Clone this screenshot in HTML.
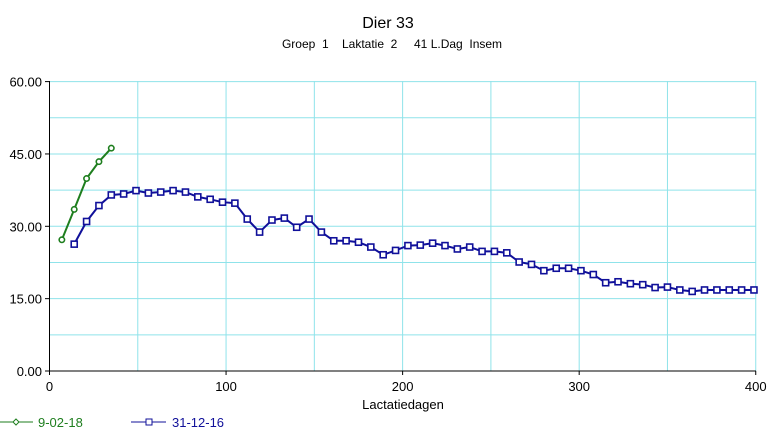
<!DOCTYPE html>
<html><head><meta charset="utf-8"><style>
body{margin:0;background:#fff;}
svg text{font-family:"Liberation Sans",Arial,sans-serif;white-space:pre;}
</style></head><body>
<svg width="776" height="432" xmlns="http://www.w3.org/2000/svg" id="c"></svg>
<script>
const s=document.getElementById('c');
const X=d=>49.5+d*1.7656, Y=v=>371-v*4.8233;
let h='<rect width="776" height="432" fill="#fff"/>';
h+='<text x="388" y="28" font-size="16" text-anchor="middle">Dier 33</text>';
h+='<text x="392" y="48" font-size="12" text-anchor="middle" xml:space="preserve">Groep  1    Laktatie  2     41 L.Dag  Insem</text>';
for(let d=50;d<=400;d+=50)h+=`<line x1="${X(d)}" y1="81" x2="${X(d)}" y2="371" stroke="#8fe3ea"/>`;
for(let v=7.5;v<=60;v+=7.5)h+=`<line x1="49.5" y1="${Y(v)}" x2="756" y2="${Y(v)}" stroke="#8fe3ea"/>`;
h+='<line x1="49.5" y1="81" x2="49.5" y2="371" stroke="#000"/><line x1="49.5" y1="371" x2="756" y2="371" stroke="#000"/>';
for(let v=0;v<=60;v+=15){h+=`<line x1="45" y1="${Y(v)}" x2="49.5" y2="${Y(v)}" stroke="#000"/><text x="42" y="${Y(v)+5}" font-size="13" text-anchor="end">${v.toFixed(2)}</text>`;}
for(let d=0;d<=400;d+=100){h+=`<line x1="${X(d)}" y1="371" x2="${X(d)}" y2="375" stroke="#000"/><text x="${X(d)}" y="391" font-size="13" text-anchor="middle">${d}</text>`;}
h+='<text x="403" y="409" font-size="13" text-anchor="middle">Lactatiedagen</text>';
const b=[26.3,31,34.3,36.5,36.7,37.4,36.9,37.1,37.4,37.1,36.1,35.6,35,34.8,31.5,28.8,31.3,31.7,29.8,31.5,28.8,27,27,26.7,25.7,24.1,25,26,26.1,26.5,26,25.3,25.7,24.8,24.8,24.5,22.6,22.1,20.8,21.3,21.3,20.8,20,18.3,18.5,18.1,17.9,17.3,17.4,16.8,16.5,16.8,16.8,16.8,16.8,16.8];
let p=b.map((v,i)=>[X(14+7*i),Y(v)]);
h+=`<polyline points="${p.map(q=>q.join(',')).join(' ')}" fill="none" stroke="#10109a" stroke-width="2"/>`;
p.forEach(q=>h+=`<rect x="${q[0]-3}" y="${q[1]-3}" width="6" height="6" fill="#fff" stroke="#10109a" stroke-width="1.6"/>`);
const g=[27.2,33.5,39.9,43.4,46.2];
let pg=g.map((v,i)=>[X(7+7*i),Y(v)]);
h+=`<polyline points="${pg.map(q=>q.join(',')).join(' ')}" fill="none" stroke="#1e7e1e" stroke-width="2"/>`;
pg.forEach(q=>h+=`<circle cx="${q[0]}" cy="${q[1]}" r="2.7" fill="#fff" stroke="#1e7e1e" stroke-width="1.6"/>`);
h+='<line x1="0" y1="422" x2="33" y2="422" stroke="#1e7e1e"/><path d="M16 419 L19 422 16 425 13 422Z" fill="#fff" stroke="#1e7e1e"/><text x="38" y="427" font-size="13" fill="#1e7e1e">9-02-18</text>';
h+='<line x1="131" y1="422" x2="166" y2="422" stroke="#10109a"/><rect x="146" y="419" width="6" height="6" fill="#fff" stroke="#10109a"/><text x="172" y="427" font-size="13" fill="#10109a">31-12-16</text>';
s.innerHTML=h;
</script>
</body></html>
